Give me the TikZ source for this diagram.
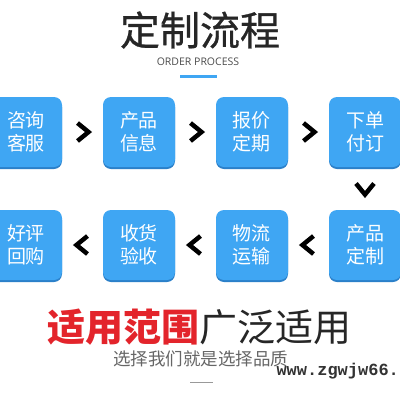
\documentclass[tikz,border=0pt]{standalone}
\usepackage{fontspec}
\setmainfont{Open Sans}
\newfontfamily\cjk{Noto Sans CJK SC}
\newfontfamily\cjkmid[FakeBold=0.7]{Noto Sans CJK SC}
\newfontfamily\webmono{Liberation Mono}
\usetikzlibrary{calc, shadows}

\definecolor{stepblue}{HTML}{3FA6F3}
\definecolor{stepshade}{HTML}{2B80C9}
\definecolor{scopered}{HTML}{E3242B}

\tikzset{
    stepbox/.style={fill=stepblue, rounded corners=8pt, minimum width=72pt, minimum height=70pt,
        text=white, align=center, font=\cjk\fontsize{19}{23}\selectfont,
        drop shadow={shadow xshift=0pt, shadow yshift=-2pt, fill=stepshade, opacity=1}},
    chev/.style={line width=4.5pt, miter limit=10},
}

\begin{document}
\begin{tikzpicture}[x=1pt, y=-1pt]
    \useasboundingbox (0,0) rectangle (400,400);
    \clip (0,0) rectangle (400,400);
    \fill[white] (0,0) rectangle (400,400);
    % heading
    \node[font=\cjkmid\fontsize{40}{40}\selectfont, text=black!85] (title) at (200,30) {定制流程};
    \node[font=\fontsize{10.5}{12}\selectfont, text=black!70] (sub) at (198,62) {ORDER PROCESS};
    \draw[stepblue, line width=3pt] (180,76) -- (217,76);
    % steps
    \node[stepbox] (consult) at (26,132) {咨询\\客服};
    \node[stepbox] (prodinfo) at (139,132) {产品\\信息};
    \node[stepbox] (quote) at (252,132) {报价\\定期};
    \node[stepbox] (order) at (365,132) {下单\\付订};
    \node[stepbox] (custom) at (365,245) {产品\\定制};
    \node[stepbox] (ship) at (252,245) {物流\\运输};
    \node[stepbox] (receive) at (139,245) {收货\\验收};
    \node[stepbox] (review) at (26,245) {好评\\回购};
    % chevrons
    \draw[chev] ($(consult)!0.5!(prodinfo)$) ++(-5,-9) -- ++(11,9) -- ++(-11,9);
    \draw[chev] ($(prodinfo)!0.5!(quote)$) ++(-5,-9) -- ++(11,9) -- ++(-11,9);
    \draw[chev] ($(quote)!0.5!(order)$) ++(-5,-9) -- ++(11,9) -- ++(-11,9);
    \draw[chev] ($(order)!0.5!(custom)$) ++(-9,-5) -- ++(9,11) -- ++(9,-11);
    \draw[chev] ($(custom)!0.5!(ship)$) ++(5,-9) -- ++(-11,9) -- ++(11,9);
    \draw[chev] ($(ship)!0.5!(receive)$) ++(5,-9) -- ++(-11,9) -- ++(11,9);
    \draw[chev] ($(receive)!0.5!(review)$) ++(5,-9) -- ++(-11,9) -- ++(11,9);
    % footer
    \node[font=\cjk\fontsize{38}{38}\selectfont] (scope) at (200,327)
        {\textcolor{scopered}{\bfseries 适用范围}\textcolor{black!85}{广泛适用}};
    \node[font=\cjk\fontsize{17.5}{18}\selectfont, text=black!60] (motto) at (201,359) {选择我们就是选择品质};
    \node[font=\webmono\bfseries\fontsize{17}{18}\selectfont, text=black!80, anchor=west] (web) at (273,371) {www.zgwjw66.};
    \draw[black!40, line width=0.8pt] (190,382) -- (213,382);
\end{tikzpicture}
\end{document}
